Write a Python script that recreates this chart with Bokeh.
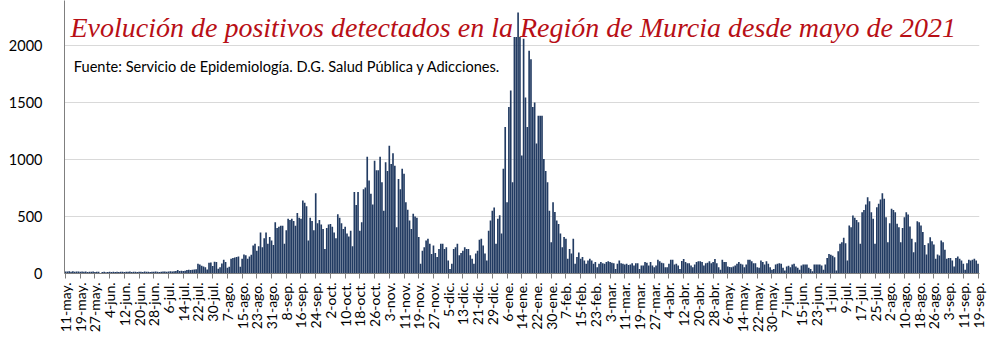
from bokeh.plotting import figure
from bokeh.models import Range1d, FixedTicker, Label, ColumnDataSource
from bokeh.embed import file_html
from bokeh.resources import INLINE
import math

tick_labels = ["11-may.","19-may.","27-may.","4-jun.","12-jun.","20-jun.","28-jun.","6-jul.","14-jul.",
               "22-jul.","30-jul.","7-ago.","15-ago.","23-ago.","31-ago.","8-sep.","16-sep.","24-sep.",
               "2-oct.","10-oct.","18-oct.","26-oct.","3-nov.","11-nov.","19-nov.","27-nov.","5-dic.",
               "13-dic.","21-dic.","29-dic.","6-ene.","14-ene.","22-ene.","30-ene.","7-feb.","15-feb.",
               "23-feb.","3-mar.","11-mar.","19-mar.","27-mar.","4-abr.","12-abr.","20-abr.","28-abr.",
               "6-may.","14-may.","22-may.","30-may.","7-jun.","15-jun.","23-jun.","1-jul.","9-jul.",
               "17-jul.","25-jul.","2-ago.","10-ago.","18-ago.","26-ago.","3-sep.","11-sep.","19-sep."]

# daily positives, 11-may-2020 ... 19-sep-2021
cases_may_jul_2020 = [18, 17, 20, 16, 19, 15, 18, 17,
                      16, 18, 15, 17, 14, 16, 15, 17,
                      14, 16, 15, 5, 13, 16, 12, 14,
                      15, 14, 16, 13, 15, 14, 16, 15,
                      14, 16, 15, 17, 14, 16, 15, 14,
                      16, 15, 14, 17, 16, 15, 14, 16,
                      15, 17, 16, 14, 16, 18, 17, 16,
                      18, 20, 17, 19, 22, 30, 21, 24,
                      22, 25, 30, 32, 31, 33, 34, 38]
cases_jul_nov_2020 = [85, 80, 68, 62, 55, 35, 94, 96,
                      65, 103, 100, 42, 55, 88, 120, 100,
                      50, 60, 129, 135, 140, 145, 149, 60,
                      129, 167, 160, 130, 150, 165, 245, 260,
                      200, 240, 360, 230, 310, 360, 260, 320,
                      290, 250, 450, 400, 410, 420, 420, 260,
                      380, 480, 470, 480, 460, 420, 530, 490,
                      480, 640, 620, 590, 290, 490, 460, 380,
                      705, 440, 470, 430, 390, 215, 400, 430,
                      435, 410, 360, 310, 520, 490, 440, 390,
                      410, 350, 325, 375, 240, 715, 600, 715,
                      375, 450, 740, 755, 1025, 815, 700, 605,
                      990, 905, 905, 1025, 800, 550, 975, 900,
                      1120, 960, 1055, 945, 405, 830, 740, 920,
                      875, 625, 560, 465, 390, 525, 500, 490,
                      320, 85, 200, 230, 290, 305, 260, 170]
cases_nov_2020_feb_2021 = [245, 180, 145, 215, 260, 260, 215, 230,
                           115, 40, 85, 215, 230, 260, 160, 180,
                           200, 230, 215, 215, 160, 130, 85, 175,
                           200, 295, 305, 245, 175, 115, 375, 465,
                           550, 580, 260, 480, 510, 350, 920, 1285,
                           625, 1460, 1605, 800, 2075, 2075, 2290, 2075,
                           1035, 2060, 1545, 1285, 1955, 1880, 1460, 1500,
                           1140, 1385, 1385, 1385, 1005, 900, 800, 550,
                           275, 625, 540, 465, 435, 350, 230, 320,
                           305, 130, 215, 175, 305, 85, 145, 185,
                           130, 145, 115, 85, 115, 130, 115, 85,
                           100, 55, 85, 100, 90, 85, 100, 108]
cases_mar_jun_2021 = [100, 95, 90, 40, 85, 114, 90, 85,
                      80, 85, 75, 79, 90, 70, 90, 90,
                      40, 70, 70, 100, 95, 70, 100, 70,
                      55, 70, 120, 108, 95, 90, 55, 55,
                      85, 120, 120, 79, 85, 70, 40, 110,
                      128, 100, 90, 90, 70, 55, 80, 100,
                      108, 108, 100, 70, 90, 95, 108, 90,
                      100, 128, 90, 55, 32, 120, 100, 100,
                      61, 58, 55, 61, 70, 85, 100, 85,
                      79, 55, 79, 120, 120, 108, 90, 90,
                      55, 50, 114, 100, 79, 108, 85, 55,
                      32, 40, 79, 85, 90, 85, 50, 26,
                      61, 67, 55, 79, 85, 61, 50, 32,
                      70, 80, 80, 80, 50, 40, 20, 80,
                      80, 80, 80, 70, 32, 80]
cases_jun_sep_2021 = [137, 172, 165, 155, 143, 26, 196, 260,
                      275, 313, 266, 114, 421, 406, 509, 488,
                      470, 450, 260, 538, 558, 605, 670, 634,
                      538, 480, 260, 582, 611, 650, 705, 655,
                      494, 275, 441, 567, 558, 538, 436, 406,
                      275, 400, 494, 538, 518, 412, 304, 187,
                      275, 459, 450, 421, 363, 250, 167, 266,
                      319, 284, 254, 129, 167, 158, 290, 275,
                      208, 129, 135, 137, 114, 61, 137, 149,
                      129, 114, 85, 32, 91, 120, 114, 120,
                      129, 114, 85]

cases = (cases_may_jul_2020 + cases_jul_nov_2020 + cases_nov_2020_feb_2021
         + cases_mar_jun_2021 + cases_jun_sep_2021)
days = list(range(len(cases)))
tick_days = [i * 8 for i in range(len(tick_labels))]
y_ticks = [0, 500, 1000, 1500, 2000]

title_text = "Evolución de positivos detectados en la Región de Murcia desde mayo de 2021"
source_text = "Fuente: Servicio de Epidemiología. D.G. Salud Pública y Adicciones."

p = figure(width=1000, height=341, output_backend="svg", toolbar_location=None,
           x_range=Range1d(-0.55, 496.8), y_range=Range1d(0, 2395),
           min_border_left=64, min_border_right=21, min_border_top=0, min_border_bottom=68)
p.outline_line_color = None
p.background_fill_color = "white"

src = ColumnDataSource(dict(day=days, cases=cases))
p.vbar(x="day", top="cases", width=0.9, source=src, fill_color="#223b62",
       line_color=None)

p.xgrid.visible = False
p.ygrid.ticker = FixedTicker(ticks=y_ticks)
p.ygrid.grid_line_color = "#d9d9d9"
p.ygrid.grid_line_width = 1

p.yaxis.ticker = FixedTicker(ticks=y_ticks)
p.yaxis.axis_line_color = "#7f7f7f"
p.yaxis.major_tick_line_color = None
p.yaxis.minor_tick_line_color = None
p.yaxis.major_label_text_font = "Lato"
p.yaxis.major_label_text_font_size = "14.5px"
p.yaxis.major_label_text_color = "black"
p.yaxis.major_label_standoff = 16

p.xaxis.ticker = FixedTicker(ticks=tick_days)
p.xaxis.major_label_overrides = {d: lab for d, lab in zip(tick_days, tick_labels)}
p.xaxis.major_label_orientation = math.pi / 2
p.xaxis.axis_line_color = "#7f7f7f"
p.xaxis.major_tick_line_color = "#7f7f7f"
p.xaxis.major_tick_out = 5
p.xaxis.major_tick_in = 0
p.xaxis.minor_tick_line_color = None
p.xaxis.major_label_text_font = "Lato"
p.xaxis.major_label_text_font_size = "14px"
p.xaxis.major_label_text_color = "black"
p.xaxis.major_label_standoff = 4

p.add_layout(Label(x=2.7, y=2160, text=title_text, text_font="Liberation Serif",
                   text_font_style="italic", text_font_size="28px", text_color="#B80F16",
                   text_baseline="alphabetic"))
p.add_layout(Label(x=4.5, y=1812, text=source_text, text_font="Lato",
                   text_font_size="14.6px", text_color="black", text_baseline="alphabetic"))

open("out.html", "w").write(file_html(p, INLINE))
